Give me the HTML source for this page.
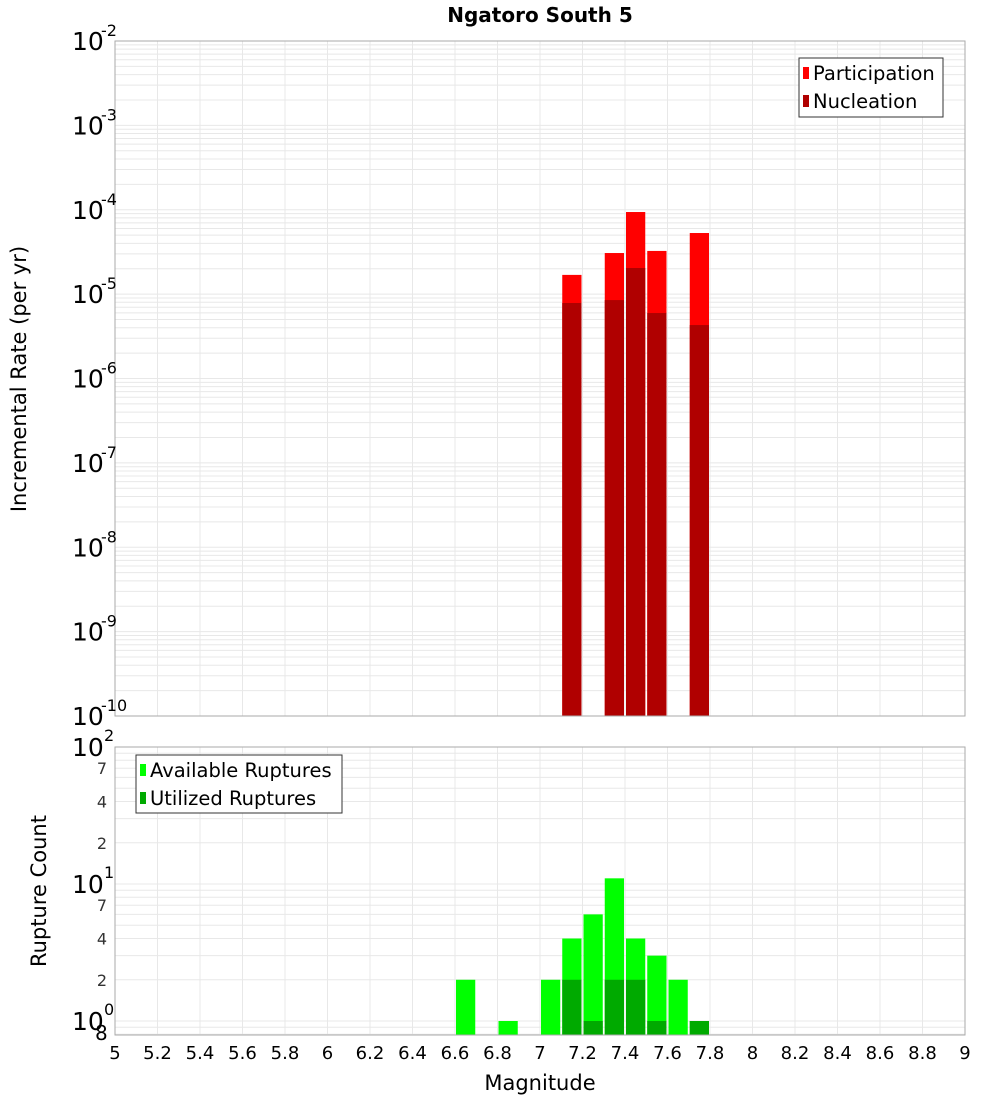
<!DOCTYPE html>
<html><head><meta charset="utf-8"><style>
html,body{margin:0;padding:0;background:#fff;}
svg{display:block;font-family:"DejaVu Sans","Liberation Sans",sans-serif;}
</style></head><body>
<svg id="chart" width="1000" height="1100" xmlns="http://www.w3.org/2000/svg">
<text x="540" y="22" text-anchor="middle" font-size="20" font-weight="bold">Ngatoro South 5</text>
<g id="topg"></g>
<g id="botg"></g>
<text transform="translate(26,379) rotate(-90)" text-anchor="middle" font-size="21">Incremental Rate (per yr)</text>
<text transform="translate(46,891) rotate(-90)" text-anchor="middle" font-size="21">Rupture Count</text>
<text x="540" y="1090" text-anchor="middle" font-size="21">Magnitude</text>
<g>
<rect x="799" y="58" width="144" height="59" fill="#fff" stroke="#333"/>
<rect x="803" y="67" width="6" height="12" fill="#ff0000"/>
<text x="813" y="80" font-size="19.5">Participation</text>
<rect x="803" y="95" width="6" height="12" fill="#b00000"/>
<text x="813" y="108" font-size="19.5">Nucleation</text>
</g>
<g>
<rect x="136" y="755" width="206" height="58" fill="#fff" stroke="#333"/>
<rect x="140" y="764" width="6" height="12" fill="#00ff00"/>
<text x="150" y="777" font-size="19.5">Available Ruptures</text>
<rect x="140" y="792" width="6" height="12" fill="#00aa00"/>
<text x="150" y="805" font-size="19.5">Utilized Ruptures</text>
</g>
</svg>
<script>
const rateMags = [7.15, 7.35, 7.45, 7.55, 7.75];
const participation = [1.69e-5, 3.07e-5, 9.4e-5, 3.25e-5, 5.3e-5];
const nucleation = [7.85e-6, 8.5e-6, 2.04e-5, 5.97e-6, 4.3e-6];
const countMags = [6.65, 6.85, 7.05, 7.15, 7.25, 7.35, 7.45, 7.55, 7.65, 7.75];
const available = [2, 1, 2, 4, 6, 11, 4, 3, 2, 1];
const utilized = [0, 0, 0, 2, 1, 2, 2, 1, 0, 1];
const xTicks = ["5","5.2","5.4","5.6","5.8","6","6.2","6.4","6.6","6.8","7","7.2","7.4","7.6","7.8","8","8.2","8.4","8.6","8.8","9"];
const rateExps = [-2,-3,-4,-5,-6,-7,-8,-9,-10];

(function(){
const NS="http://www.w3.org/2000/svg";
const X0=115,X1=965;
const xs=m=>X0+(m-5)/4*(X1-X0);
const TY0=41,TY1=716;
const ty=v=>TY0+(-2-Math.log10(v))/8*(TY1-TY0);
const BY0=747,BY1=1035;
const by=v=>884-Math.log10(v/10)*137;
function mk(parent,tag,attrs){const e=document.createElementNS(NS,tag);for(const k in attrs)e.setAttribute(k,attrs[k]);parent.appendChild(e);return e;}
const gTop=document.getElementById('topg'),gBot=document.getElementById('botg');

for(let d=-10;d<-2;d++){for(let k=1;k<10;k++){const y=ty(k*Math.pow(10,d));
const g=mk(gTop,'line',{x1:X0,x2:X1,y1:y,y2:y,stroke:'#e8e8e8'});

}}
for(let i=0;i<xTicks.length;i++){const x=xs(+xTicks[i]);
const g=mk(gTop,'line',{x1:x,x2:x,y1:TY0,y2:TY1,stroke:'#e8e8e8'});


const g2=mk(gBot,'line',{x1:x,x2:x,y1:BY0,y2:BY1,stroke:'#e8e8e8'});

}
for(let d=-1;d<2;d++){for(let k=1;k<10;k++){const v=k*Math.pow(10,d);const y=by(v);if(y<BY0-0.5||y>BY1)continue;
const g=mk(gBot,'line',{x1:X0,x2:X1,y1:y,y2:y,stroke:'#e8e8e8'});

}}

const bw=(X1-X0)/40;
for(let i=0;i<rateMags.length;i++){const x=xs(rateMags[i])-bw/2+1;
const p=mk(gTop,'rect',{x:x,y:ty(participation[i]),width:bw-2,height:TY1-ty(participation[i]),fill:'#ff0000'});


const n=mk(gTop,'rect',{x:x,y:ty(nucleation[i]),width:bw-2,height:TY1-ty(nucleation[i]),fill:'#b00000'});

}
for(let i=0;i<countMags.length;i++){const x=xs(countMags[i])-bw/2+1;
const a=mk(gBot,'rect',{x:x,y:by(available[i]),width:bw-2,height:BY1-by(available[i]),fill:'#00ff00'});


if(utilized[i]>0){const u=mk(gBot,'rect',{x:x,y:by(utilized[i]),width:bw-2,height:BY1-by(utilized[i]),fill:'#00aa00'});

}}

const f1=mk(gTop,'rect',{x:X0,y:TY0,width:X1-X0,height:TY1-TY0,fill:'none',stroke:'#aaa'});


const f2=mk(gBot,'rect',{x:X0,y:BY0,width:X1-X0,height:BY1-BY0,fill:'none',stroke:'#aaa'});



for(const e of rateExps){const y=ty(Math.pow(10,e));
const t=mk(gTop,'text',{x:72,y:y+9,'font-size':25});t.textContent='10';


const s=mk(gTop,'text',{x:101,y:y-5,'font-size':16});s.textContent=String(e);

}
const bl=[[100,'10','2'],[10,'10','1'],[1,'10','0']];
for(const [v,b,ex] of bl){const y=by(v);
const t=mk(gBot,'text',{x:72,y:y+9,'font-size':25});t.textContent=b;


const s=mk(gBot,'text',{x:104,y:y-6,'font-size':16});s.textContent=ex;

}
for(const v of [70,40,20,7,4,2]){const y=by(v);
const t=mk(gBot,'text',{x:107,y:y+6,'font-size':16,'text-anchor':'end',fill:'#333'});t.textContent=String(v).charAt(0);

}
const e8=mk(gBot,'text',{x:95,y:1040,'font-size':20});e8.textContent='8';


for(const l of xTicks){const t=mk(gBot,'text',{x:xs(+l),y:1059,'font-size':18,'text-anchor':'middle'});t.textContent=l;

}
})();
</script>
</body></html>
